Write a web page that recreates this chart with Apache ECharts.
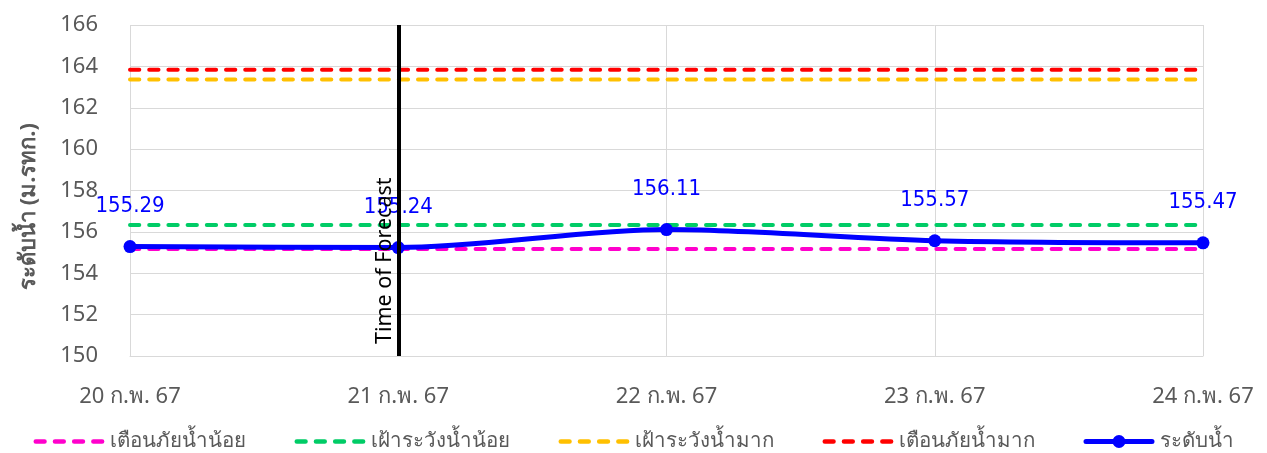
<!DOCTYPE html>
<html>
<head>
<meta charset="utf-8">
<script src="https://cdn.jsdelivr.net/npm/echarts@6/dist/echarts.min.js"></script>
<style>
  html, body { margin: 0; padding: 0; background: #fff; }
  #chart { width: 1267px; height: 453px; }
</style>
</head>
<body>
<div id="chart"></div>
<script>
const days = ["20 ก.พ. 67", "21 ก.พ. 67", "22 ก.พ. 67", "23 ก.พ. 67", "24 ก.พ. 67"];
const waterLevel = [155.29, 155.24, 156.11, 155.57, 155.47];
const lowWarning = [155.17, 155.17, 155.17, 155.17, 155.17];
const lowWatch = [156.33, 156.33, 156.33, 156.33, 156.33];
const highWatch = [163.37, 163.37, 163.37, 163.37, 163.37];
const highWarning = [163.84, 163.84, 163.84, 163.84, 163.84];
const forecastDay = "21 ก.พ. 67";

const font = "'Noto Sans', 'DejaVu Sans', sans-serif";
const chart = echarts.init(document.getElementById("chart"));

// legend icons: 4 rounded dashes, and a thick line with a dot
const dash = (x) => `M${x + 2.3},4 h8.7 a2.3,2.3 0 0 1 0,4.6 h-8.7 a2.3,2.3 0 0 1 0,-4.6 z`;
const dashIcon = "path://M0,0 " + [0, 19.2, 38.4, 57.6].map(dash).join(" ") + " M71,12.6";
const dotIcon = "path://M2.5,4 h66 a2.5,2.5 0 0 1 0,5 h-66 a2.5,2.5 0 0 1 0,-5 z M35.5,0 a6.5,6.5 0 1 1 0,13 a6.5,6.5 0 1 1 0,-13 z";

const dashed = (name, data, color) => ({
  name,
  type: "line",
  data,
  symbol: "none",
  silent: true,
  lineStyle: { color, width: 4, type: [9.3, 9.9], cap: "round" },
  itemStyle: { color },
});

const options = {
  animation: false,
  textStyle: { fontFamily: font },
  grid: { left: 130, right: 64, top: 25, bottom: 97 },
  legend: {
    top: 431,
    padding: 0,
    itemWidth: 71,
    itemHeight: 13,
    itemGap: 49,
    textStyle: { fontSize: 20.5, color: "#595959", fontFamily: font },
    data: [
      { name: "เตือนภัยน้ำน้อย", icon: dashIcon },
      { name: "เฝ้าระวังน้ำน้อย", icon: dashIcon },
      { name: "เฝ้าระวังน้ำมาก", icon: dashIcon },
      { name: "เตือนภัยน้ำมาก", icon: dashIcon },
      { name: "ระดับน้ำ", icon: dotIcon },
    ],
  },
  xAxis: {
    type: "category",
    data: days,
    boundaryGap: false,
    axisLine: { lineStyle: { color: "#d9d9d9" } },
    axisTick: { show: false },
    splitLine: { show: true, lineStyle: { color: "#d9d9d9" } },
    axisLabel: { fontSize: 22, color: "#595959", margin: 30 },
  },
  yAxis: {
    type: "value",
    min: 150,
    max: 166,
    interval: 2,
    name: "ระดับน้ำ (ม.รทก.)",
    nameLocation: "middle",
    nameGap: 90,
    nameTextStyle: {
      fontSize: 22,
      fontWeight: "bold",
      color: "#595959",
      padding: [0, 32, 0, 0],
    },
    axisLine: { show: false },
    axisTick: { show: false },
    splitLine: { lineStyle: { color: "#d9d9d9" } },
    axisLabel: { fontSize: 22, color: "#595959", margin: 32 },
  },
  series: [
    dashed("เตือนภัยน้ำน้อย", lowWarning, "#ff00cc"),
    dashed("เฝ้าระวังน้ำน้อย", lowWatch, "#00cc66"),
    dashed("เฝ้าระวังน้ำมาก", highWatch, "#ffc000"),
    dashed("เตือนภัยน้ำมาก", highWarning, "#ff0000"),
    {
      name: "ระดับน้ำ",
      type: "line",
      data: waterLevel,
      smooth: 0.3,
      symbol: "circle",
      symbolSize: 13,
      lineStyle: { color: "#0000ff", width: 5 },
      itemStyle: { color: "#0000ff" },
      label: {
        show: true,
        position: "top",
        distance: 23,
        fontSize: 22,
        color: "#0000ff",
        fontFamily: "'DejaVu Sans Condensed', 'DejaVu Sans', sans-serif",
      },
      markLine: {
        silent: true,
        symbol: "none",
        lineStyle: { color: "#000", width: 4, type: "solid" },
        label: {
          show: true,
          position: "insideStartTop",
          formatter: "Time of Forecast",
          fontSize: 21.5,
          color: "#000",
          distance: 2,
          padding: [0, 0, 0, 10],
        },
        data: [{ xAxis: forecastDay }],
      },
    },
  ],
};

chart.setOption(options);
</script>
</body>
</html>
